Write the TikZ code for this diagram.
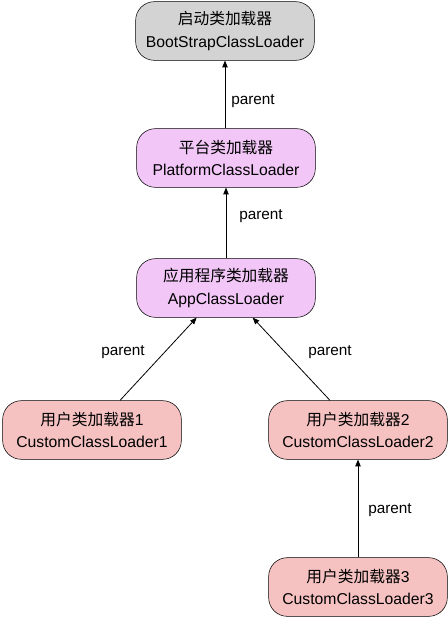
\documentclass[tikz,border=0pt]{standalone}
\usepackage{fontspec}
\setmainfont{Liberation Sans}
\newfontfamily\cjk{Noto Sans CJK SC}
\usetikzlibrary{arrows.meta,positioning}
\definecolor{bootgray}{HTML}{D3D3D3}
\definecolor{sysviolet}{HTML}{F2C6F7}
\definecolor{userred}{HTML}{F5C2C1}

\begin{document}
\begin{tikzpicture}[
    x=0.75pt, y=-0.75pt,
    >={Triangle[length=5pt,width=4pt]},
    loader/.style={
        rectangle, draw, rounded corners=14pt,
        minimum width=134pt, minimum height=44pt,
        align=center, font=\fontsize{11.8}{17}\selectfont
    },
    boot/.style={loader, fill=bootgray},
    sys/.style={loader, fill=sysviolet},
    user/.style={loader, fill=userred},
    arr/.style={->, line width=0.6pt},
    lbl/.style={font=\fontsize{11.5}{13}\selectfont}
]
    \useasboundingbox (0,0) rectangle (448,618);

    % Loaders
    \node[boot] (bootL) at (225,31) {{\cjk 启动类加载器}\\BootStrapClassLoader};
    \node[sys] (platL) at (226,158) {{\cjk 平台类加载器}\\PlatformClassLoader};
    \node[sys] (appL) at (226,288) {{\cjk 应用程序类加载器}\\AppClassLoader};
    \node[user] (cust1) at (92,430) {{\cjk 用户类加载器}1\\CustomClassLoader1};
    \node[user] (cust2) at (358,430) {{\cjk 用户类加载器}2\\CustomClassLoader2};
    \node[user] (cust3) at (358,587) {{\cjk 用户类加载器}3\\CustomClassLoader3};

    % Parent links
    \draw[arr] (platL.north -| bootL.south) -- (bootL.south);
    \draw[arr] (appL.north -| platL.south) -- (platL.south);
    \draw[arr] ([xshift=21pt]cust1.north) -- ([xshift=-22pt]appL.south);
    \draw[arr] ([xshift=-21pt]cust2.north) -- ([xshift=20pt]appL.south);
    \draw[arr] (cust3) -- (cust2);

    % Labels
    \node[lbl] (p1) at (253,101) {parent};
    \node[lbl] (p2) at (261,216) {parent};
    \node[lbl] (p3) at (123,352) {parent};
    \node[lbl] (p4) at (330,352) {parent};
    \node[lbl] (p5) at (390,510) {parent};
\end{tikzpicture}
\end{document}
